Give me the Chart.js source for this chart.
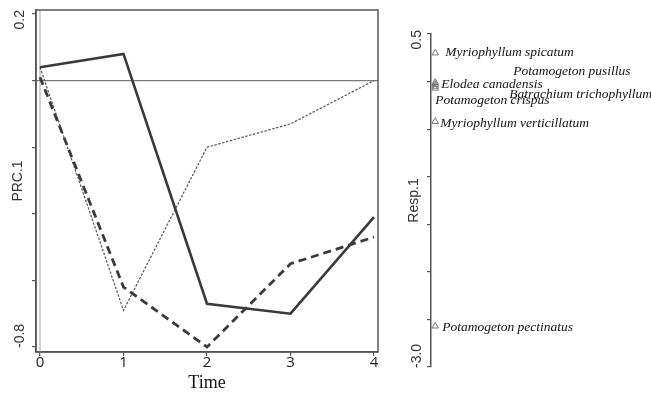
<!DOCTYPE html>
<html>
<head>
<meta charset="utf-8">
<script src="https://cdn.jsdelivr.net/npm/chart.js@4"></script>
<style>
  body { margin: 0; background: #fff; }
  #wrap { position: relative; width: 651px; height: 393px; overflow: hidden; }
  canvas { position: absolute; top: 0; }
  #prc { left: 0; }
  #resp { left: 395px; }
</style>
</head>
<body>
<div id="wrap">
  <canvas id="prc" width="395" height="393"></canvas>
  <canvas id="resp" width="256" height="393"></canvas>
</div>
<script>
// PRC curves, one per treatment
const timePoints = [0, 1, 2, 3, 4];
const seriesSolid = [0.04, 0.08, -0.67, -0.70, -0.41];
const seriesDashed = [0.01, -0.62, -0.80, -0.55, -0.47];
const seriesDotted = [0.04, -0.69, -0.20, -0.13, 0.00];

const prcTicks = [0.2, 0, -0.2, -0.4, -0.6, -0.8];
const prcTickLabels = ['0.2', '', '', '', '', '-0.8'];

// species weights (Resp.1)
const species = [
  'Myriophyllum spicatum',
  'Elodea canadensis',
  'Potamogeton pusillus',
  'Batrachium trichophyllum',
  'Potamogeton crispus',
  'Myriophyllum verticillatum',
  'Potamogeton pectinatus',
];
const speciesScores = [0.30, -0.01, -0.03, -0.05, -0.07, -0.42, -2.57];
const respTicks = [0.5, 0, -0.5, -1, -1.5, -2, -2.5, -3];
const respTickLabels = ['0.5', '', '', '', '', '', '', '-3.0'];

// label nudges (px) so the crowded names don't sit on top of each other
const labelNudge = [[10, -1], [6, 2], [78, -13], [74, 8], [0, 12], [5, 2], [7, 1]];

const AXIS = '#555';
const SANS = '"Liberation Sans", Arial, sans-serif';
const SERIF = '"Liberation Serif", "Times New Roman", serif';

function pairs(ys) {
  return timePoints.map((t, i) => ({ x: t, y: ys[i] }));
}

// rotated tick labels, first one hangs above its tick, last one sits below
function drawSideLabels(ctx, scale, values, labels, cx) {
  ctx.save();
  ctx.font = '14px ' + SANS;
  ctx.fillStyle = '#333';
  ctx.textBaseline = 'middle';
  values.forEach((v, i) => {
    if (!labels[i]) return;
    const y = scale.getPixelForValue(v);
    ctx.save();
    ctx.translate(cx, i === 0 ? y - 4 : y + 1);
    ctx.rotate(-Math.PI / 2);
    ctx.textAlign = i === 0 ? 'right' : 'left';
    ctx.fillText(labels[i], 0, 0);
    ctx.restore();
  });
  ctx.restore();
}

const prcDecor = {
  id: 'prcDecor',
  beforeDatasetsDraw(chart) {
    const { ctx, chartArea: a, scales } = chart;
    const x0 = scales.x.getPixelForValue(0);
    const y0 = scales.y.getPixelForValue(0);
    ctx.save();
    ctx.strokeStyle = '#c4c4c4';
    ctx.lineWidth = 1.5;
    ctx.beginPath();
    ctx.moveTo(x0, a.top);
    ctx.lineTo(x0, a.bottom);
    ctx.stroke();
    ctx.strokeStyle = '#7a7a7a';
    ctx.lineWidth = 1.2;
    ctx.beginPath();
    ctx.moveTo(a.left, y0);
    ctx.lineTo(a.right, y0);
    ctx.stroke();
    ctx.restore();
  },
  afterDraw(chart) {
    const { ctx, chartArea: a } = chart;
    ctx.save();
    ctx.strokeStyle = AXIS;
    ctx.lineWidth = 1.5;
    ctx.strokeRect(a.left, a.top, a.right - a.left, a.bottom - a.top);
    ctx.restore();
    drawSideLabels(ctx, chart.scales.y, prcTicks, prcTickLabels, 20);
  }
};

new Chart(document.getElementById('prc'), {
  type: 'line',
  data: {
    datasets: [
      { data: pairs(seriesSolid), borderColor: '#3a3a3a', borderWidth: 2.6 },
      { data: pairs(seriesDashed), borderColor: '#3a3a3a', borderWidth: 2.8, borderDash: [8, 5] },
      { data: pairs(seriesDotted), borderColor: '#555', borderWidth: 1.2, borderDash: [2.5, 1.5] },
    ],
  },
  options: {
    responsive: false,
    animation: false,
    devicePixelRatio: 1,
    layout: { padding: { top: 10, right: 17, left: 0, bottom: 0 } },
    elements: { point: { radius: 0 }, line: { tension: 0 } },
    plugins: { legend: { display: false }, tooltip: { enabled: false } },
    scales: {
      x: {
        type: 'linear',
        min: -0.048,
        max: 4.048,
        afterBuildTicks: s => { s.ticks = timePoints.map(v => ({ value: v })); },
        afterFit: s => { s.height = 41; },
        grid: { drawOnChartArea: false, tickLength: 4, color: AXIS, lineWidth: 1.2 },
        border: { color: AXIS, width: 1.5 },
        ticks: { padding: -2, color: '#222', font: { family: '"Open Sans", sans-serif', size: 15 } },
        title: { display: true, text: 'Time', color: '#111', padding: { top: 0, bottom: -1 },
                 font: { family: SERIF, size: 18 } },
      },
      y: {
        min: -0.815,
        max: 0.212,
        afterBuildTicks: s => { s.ticks = prcTicks.map(v => ({ value: v })); },
        afterFit: s => { s.width = 36; },
        grid: { drawOnChartArea: false, tickLength: 4, color: AXIS, lineWidth: 1.2 },
        border: { color: AXIS, width: 1.5 },
        ticks: { display: false },
        title: { display: true, text: 'PRC.1', color: '#333', padding: { top: 10, bottom: 0 },
                 font: { family: SANS, size: 14 } },
      },
    },
  },
  plugins: [prcDecor],
});

const respDecor = {
  id: 'respDecor',
  afterDraw(chart) {
    const { ctx, scales } = chart;
    drawSideLabels(ctx, scales.y, respTicks, respTickLabels, 22);
    ctx.save();
    ctx.font = 'italic 13.5px ' + SERIF;
    ctx.fillStyle = '#111';
    ctx.textAlign = 'left';
    ctx.textBaseline = 'middle';
    const meta = chart.getDatasetMeta(0);
    meta.data.forEach((pt, i) => {
      const [dx, dy] = labelNudge[i];
      ctx.fillText(species[i], pt.x + dx, pt.y + dy);
    });
    ctx.restore();
  }
};

new Chart(document.getElementById('resp'), {
  type: 'scatter',
  data: {
    datasets: [{
      data: speciesScores.map(v => ({ x: 0, y: v })),
      pointStyle: 'triangle',
      pointRadius: 3.8,
      borderColor: '#777',
      borderWidth: 1,
      backgroundColor: 'rgba(0,0,0,0)',
    }],
  },
  options: {
    responsive: false,
    animation: false,
    devicePixelRatio: 1,
    layout: { padding: { top: 34, bottom: 26, left: 0, right: 0 } },
    plugins: { legend: { display: false }, tooltip: { enabled: false } },
    scales: {
      x: { type: 'linear', display: false, min: -0.2, max: 10 },
      y: {
        min: -3,
        max: 0.5,
        afterBuildTicks: s => { s.ticks = respTicks.map(v => ({ value: v })); },
        afterFit: s => { s.width = 36; },
        grid: { drawOnChartArea: false, tickLength: 4, color: AXIS, lineWidth: 1.2 },
        border: { color: AXIS, width: 1.5 },
        ticks: { display: false },
        title: { display: true, text: 'Resp.1', color: '#333', padding: { top: 11, bottom: 0 },
                 font: { family: SANS, size: 14 } },
      },
    },
  },
  plugins: [respDecor],
});
</script>
</body>
</html>
